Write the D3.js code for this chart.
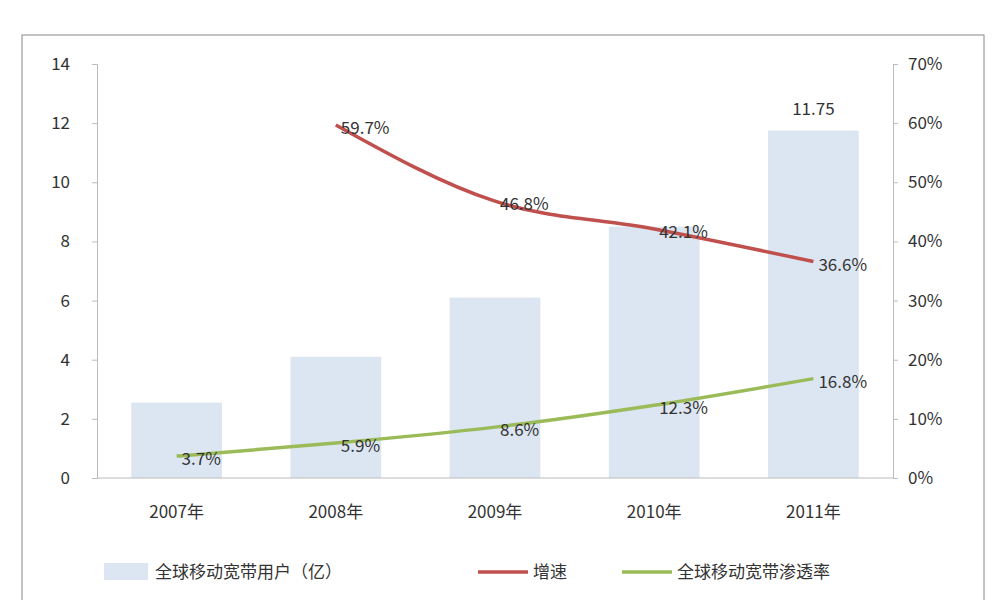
<!DOCTYPE html>
<html><head><meta charset="utf-8">
<script src="https://cdn.jsdelivr.net/npm/d3@7"></script>
<style>body{margin:0;background:#fff;font-family:"Noto Sans CJK SC","DejaVu Sans",sans-serif;}</style>
</head><body><div id="chart"></div>
<script>
var years = ["2007年", "2008年", "2009年", "2010年", "2011年"];
var users = [2.55, 4.1, 6.1, 8.5, 11.75];
var growth = [null, 59.7, 46.8, 42.1, 36.6];
var penetration = [3.7, 5.9, 8.6, 12.3, 16.8];
var leftTicks = [0, 2, 4, 6, 8, 10, 12, 14];
var rightTicks = [0, 10, 20, 30, 40, 50, 60, 70];

var svg = d3.select("#chart").append("svg").attr("width", 994).attr("height", 600);
svg.append("rect").attr("x", 22).attr("y", 35).attr("width", 962).attr("height", 580)
    .attr("fill", "none").attr("stroke", "#888");

var plotL = 97, plotR = 893, plotT = 64, plotB = 478;
var x = d3.scaleBand().domain(years).range([plotL, plotR]).paddingInner(0.43).paddingOuter(0.215);
var yL = d3.scaleLinear().domain([0, 14]).range([plotB, plotT]);
var yR = d3.scaleLinear().domain([0, 70]).range([plotB, plotT]);
var cx = function (i) { return x(years[i]) + x.bandwidth() / 2; };

svg.selectAll(".bar").data(users).enter().append("rect")
    .attr("x", function (d, i) { return x(years[i]); })
    .attr("y", function (d) { return yL(d); })
    .attr("width", x.bandwidth())
    .attr("height", function (d) { return plotB - yL(d); })
    .attr("fill", "#dce6f2");

var axL = svg.append("g").attr("transform", "translate(" + plotL + ",0)")
    .call(d3.axisLeft(yL).tickValues(leftTicks).tickSize(5).tickPadding(22));
var axR = svg.append("g").attr("transform", "translate(" + plotR + ",0)")
    .call(d3.axisRight(yR).tickValues(rightTicks).tickSize(5).tickPadding(10).tickFormat(function (d) { return d + "%"; }));
var axB = svg.append("g").attr("transform", "translate(0," + plotB + ")")
    .call(d3.axisBottom(x).tickSize(0).tickPadding(28));
[axL, axR, axB].forEach(function (a) {
    a.selectAll("path,line").attr("stroke", "#bbb");
    a.selectAll("text").attr("font-size", 17).attr("fill", "#333").attr("font-family", "\"Noto Sans CJK SC\",sans-serif");
});
axB.select("path").attr("d", "M" + plotL + ",0H" + plotR);

svg.append("text").attr("x", cx(4)).attr("y", yL(users[4]) - 16).attr("text-anchor", "middle")
    .attr("font-size", 17).attr("fill", "#333").text("11.75");

function drawLine(vals, color) {
    var pts = vals.map(function (v, i) { return v == null ? null : [cx(i), yR(v)]; }).filter(Boolean);
    svg.append("path").attr("d", d3.line().curve(d3.curveMonotoneX)(pts))
        .attr("fill", "none").attr("stroke", color).attr("stroke-width", 3.5);
    vals.forEach(function (v, i) {
        if (v == null) return;
        svg.append("text").attr("x", cx(i) + 5).attr("y", yR(v) + 9)
            .attr("font-size", 17).attr("fill", "#333").text(v.toFixed(1) + "%");
    });
}
drawLine(growth, "#c0504d");
drawLine(penetration, "#9bbb59");

var lg = svg.append("g").attr("font-size", 17).attr("fill", "#333");
lg.append("rect").attr("x", 104).attr("y", 563).attr("width", 44).attr("height", 17).attr("fill", "#dce6f2");
lg.append("text").attr("x", 155).attr("y", 578).text("全球移动宽带用户（亿）");
lg.append("line").attr("x1", 478).attr("x2", 528).attr("y1", 572).attr("y2", 572).attr("stroke", "#c0504d").attr("stroke-width", 3.5);
lg.append("text").attr("x", 533).attr("y", 578).text("增速");
lg.append("line").attr("x1", 622).attr("x2", 672).attr("y1", 572).attr("y2", 572).attr("stroke", "#9bbb59").attr("stroke-width", 3.5);
lg.append("text").attr("x", 677).attr("y", 578).text("全球移动宽带渗透率");
</script></body></html>
